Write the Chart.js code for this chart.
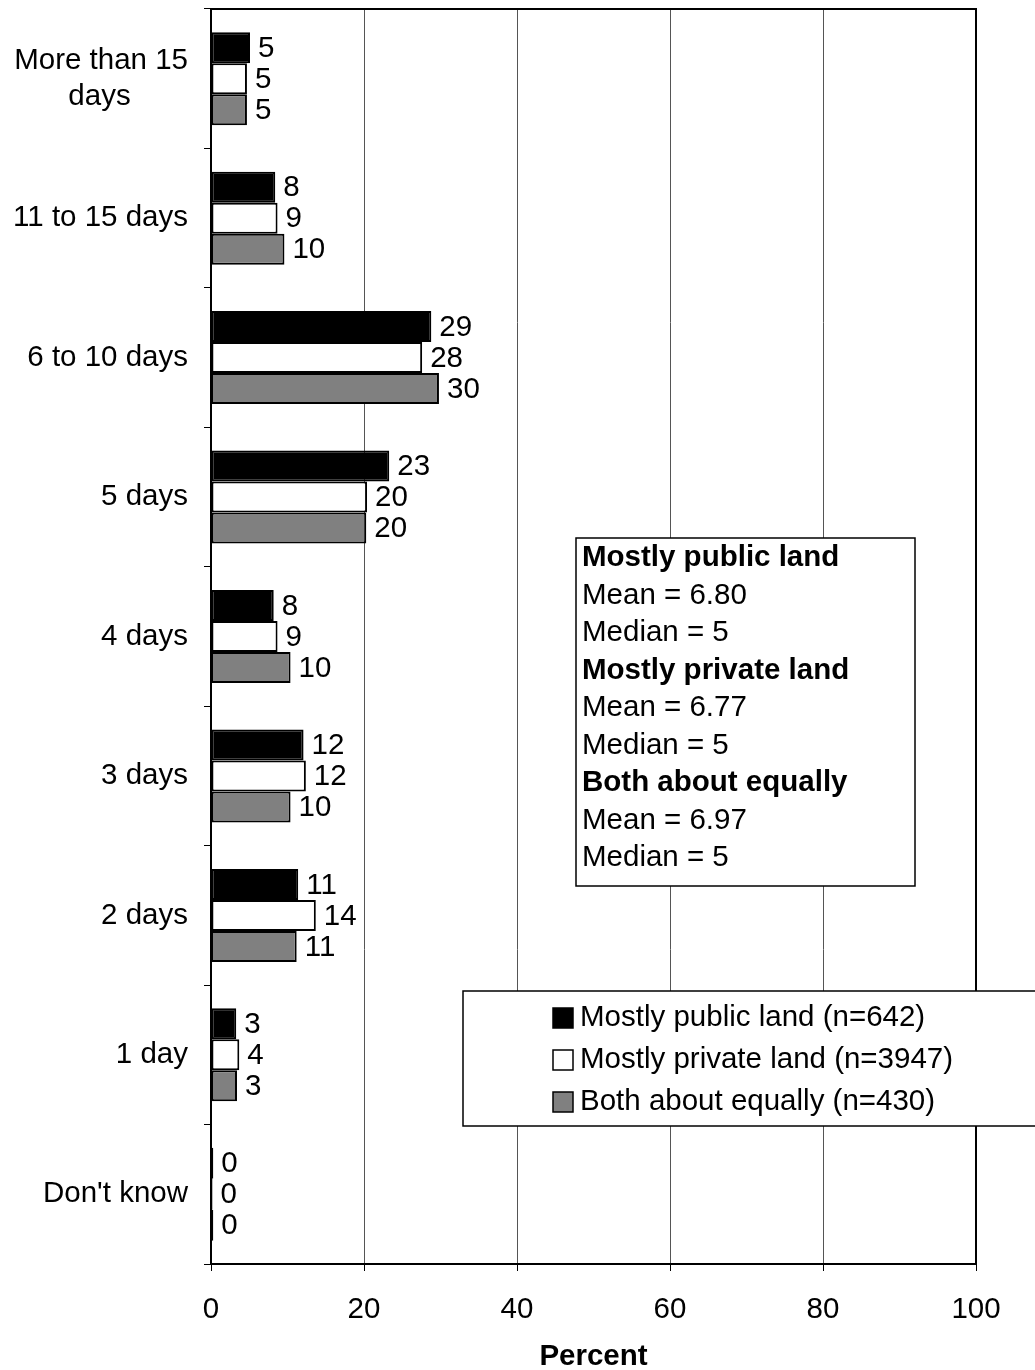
<!DOCTYPE html>
<html>
<head>
<meta charset="utf-8">
<script src="https://cdn.jsdelivr.net/npm/chart.js@4/dist/chart.umd.min.js"></script>
<style>
    html, body { margin: 0; padding: 0; background: #fff; }
    #wrap { width: 1035px; height: 1370px; position: relative; }
</style>
</head>
<body>
<div id="wrap"><canvas id="js-days-chart"></canvas></div>
<script>
const FONT = "'Liberation Sans', Arial, sans-serif";
const FS = 29.5;
const NBSP = '\u00A0';

// Data
const categories = [['More than 15', 'days' + NBSP.repeat(7)], '11 to 15 days', '6 to 10 days', '5 days', '4 days', '3 days', '2 days', '1 day', "Don't know"];
const publicLand = [5.1, 8.4, 28.8, 23.3, 8.2, 12.1, 11.4, 3.3, 0.3];
const privateLand = [4.7, 8.7, 27.6, 20.4, 8.7, 12.4, 13.7, 3.7, 0.2];
const bothEqually = [4.7, 9.6, 29.8, 20.3, 10.4, 10.4, 11.2, 3.4, 0.3];
const seriesLabels = ['Mostly public land (n=642)', 'Mostly private land (n=3947)', 'Both about equally (n=430)'];
const seriesColors = ['#000000', '#ffffff', '#808080'];
const xTicks = [0, 20, 40, 60, 80, 100];

// Summary stats box text
const statsTitles = ['Mostly public land', 'Mostly private land', 'Both about equally'];
const statsMeans = ['6.80', '6.77', '6.97'];
const statsMedians = ['5', '5', '5'];

// value labels at the end of each bar
const barValuesPlugin = {
    id: 'barValues',
    afterDatasetsDraw(chart) {
        const ctx = chart.ctx;
        ctx.save();
        ctx.font = FS + 'px ' + FONT;
        ctx.fillStyle = '#000';
        ctx.textAlign = 'left';
        ctx.textBaseline = 'middle';
        chart.data.datasets.forEach((ds, i) => {
            chart.getDatasetMeta(i).data.forEach((bar, j) => {
                ctx.fillText(String(Math.round(ds.data[j])), bar.x + 8, bar.y + 1);
            });
        });
        ctx.restore();
    }
};

// plot frame, stats box and legend box
const boxesPlugin = {
    id: 'boxes',
    afterDraw(chart) {
        const ctx = chart.ctx;
        const a = chart.chartArea;
        ctx.save();
        ctx.strokeStyle = '#000';
        ctx.lineWidth = 2;
        ctx.strokeRect(a.left, a.top, a.right - a.left, a.bottom - a.top);

        // stats box
        ctx.fillStyle = '#fff';
        ctx.fillRect(576, 538, 339, 348);
        ctx.lineWidth = 1.5;
        ctx.strokeRect(576, 538, 339, 348);
        ctx.fillStyle = '#000';
        ctx.textAlign = 'left';
        ctx.textBaseline = 'middle';
        let y = 558;
        statsTitles.forEach((t, i) => {
            ctx.font = 'bold ' + FS + 'px ' + FONT;
            ctx.fillText(t, 582, y);
            ctx.font = FS + 'px ' + FONT;
            ctx.fillText('Mean = ' + statsMeans[i], 582, y + 37.5);
            ctx.fillText('Median = ' + statsMedians[i], 582, y + 75);
            y += 112.5;
        });

        // legend box
        ctx.fillStyle = '#fff';
        ctx.fillRect(463, 991, 580, 135);
        ctx.lineWidth = 1.5;
        ctx.strokeRect(463, 991, 580, 135);
        ctx.font = FS + 'px ' + FONT;
        chart.data.datasets.forEach((ds, i) => {
            const ly = 1018 + i * 42;
            ctx.fillStyle = ds.backgroundColor;
            ctx.fillRect(553, ly - 10, 20, 20);
            ctx.strokeStyle = '#000';
            ctx.lineWidth = 1.5;
            ctx.strokeRect(553, ly - 10, 20, 20);
            ctx.fillStyle = '#000';
            ctx.fillText(ds.label, 580, ly);
        });
        ctx.restore();
    }
};

const datasets = [publicLand, privateLand, bothEqually].map((values, i) => ({
    label: seriesLabels[i],
    data: values,
    backgroundColor: seriesColors[i],
    borderColor: '#000',
    borderWidth: 2,
    borderSkipped: false,
    barPercentage: 1.0,
    categoryPercentage: 0.667,
}));

const chartConfig = {
    type: 'bar',
    data: { labels: categories, datasets: datasets },
    options: {
        indexAxis: 'y',
        responsive: true,
        maintainAspectRatio: false,
        animation: false,
        layout: { padding: { top: 9, right: 59, left: 0, bottom: 0 } },
        scales: {
            x: {
                min: 0,
                max: 100,
                afterBuildTicks: (axis) => { axis.ticks = xTicks.map(v => ({ value: v })); },
                afterFit: (axis) => { axis.height = 106; axis.paddingLeft = 0; axis.paddingRight = 0; },
                ticks: { color: '#000', font: { family: FONT, size: FS }, padding: 21, maxRotation: 0 },
                grid: { color: '#555', lineWidth: 1, tickColor: '#000', tickLength: 7 },
                border: { color: '#000', width: 2 },
                title: {
                    display: true,
                    text: 'Percent',
                    color: '#000',
                    font: { family: FONT, size: FS, weight: 'bold' },
                    padding: { top: 0, bottom: -4.5 },
                },
            },
            y: {
                afterFit: (axis) => { axis.width = 211; axis.paddingTop = 0; axis.paddingBottom = 0; },
                ticks: { color: '#000', font: { family: FONT, size: FS, lineHeight: 1.22 }, padding: 16, autoSkip: false },
                grid: { offset: true, drawOnChartArea: false, tickColor: '#000', tickLength: 7 },
                border: { color: '#000', width: 2 },
            }
        },
        plugins: {
            legend: { display: false },
            tooltip: { enabled: false },
        }
    },
    plugins: [barValuesPlugin, boxesPlugin],
};

new Chart(document.querySelector('#js-days-chart'), chartConfig);
</script>
</body>
</html>
